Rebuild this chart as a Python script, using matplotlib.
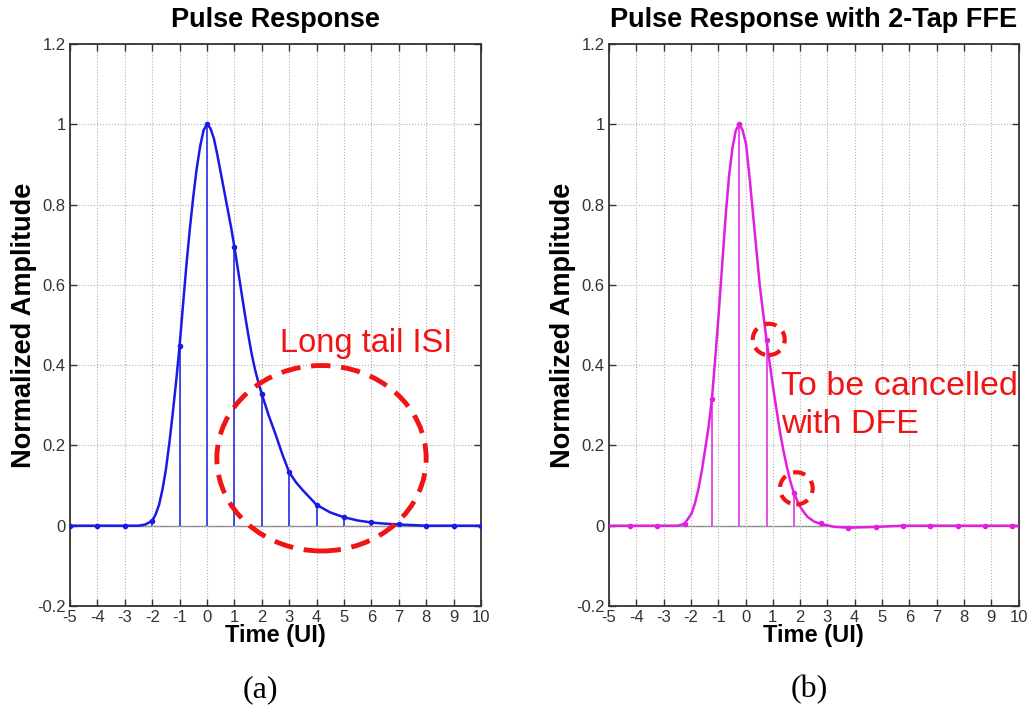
import matplotlib
matplotlib.use("Agg")
import matplotlib.pyplot as plt
from matplotlib.patches import Ellipse

plt.rcParams['font.family'] = ['Liberation Sans', 'DejaVu Sans']

# (a) pulse response, dense trace
t_a = [-5, -3, -2.5, -2.25, -2.0, -1.875, -1.75, -1.625, -1.5, -1.375, -1.25, -1.125,
       -1.0, -0.875, -0.75, -0.625, -0.5, -0.375, -0.25, -0.125, 0.0,
       0.125, 0.25, 0.375, 0.5, 0.625, 0.75, 0.875, 1.0, 1.125, 1.25, 1.375, 1.5,
       1.625, 1.75, 1.875, 2.0, 2.25, 2.5, 2.75, 3.0, 3.25, 3.5, 4.0, 4.5, 5.0,
       5.5, 6.0, 6.5, 7.0, 8.0, 10]
y_a = [0, 0, 0.0, 0.003, 0.012, 0.028, 0.052, 0.09, 0.14, 0.205, 0.28, 0.36,
       0.448, 0.55, 0.65, 0.74, 0.82, 0.89, 0.945, 0.985, 1.0,
       0.99, 0.965, 0.925, 0.88, 0.835, 0.79, 0.745, 0.695, 0.64, 0.585, 0.53, 0.478,
       0.43, 0.39, 0.357, 0.328, 0.275, 0.228, 0.178, 0.133, 0.108, 0.088, 0.052, 0.033, 0.021,
       0.013, 0.008, 0.005, 0.003, 0.0, 0.0]
# (a) samples at integer UI
ts_a = [-5, -4, -3, -2, -1, 0, 1, 2, 3, 4, 5, 6, 7, 8, 9, 10]
ys_a = [0, 0, 0, 0.011, 0.448, 1.0, 0.695, 0.328, 0.133, 0.052, 0.021, 0.008, 0.003, 0, 0, 0]

# (b) pulse response with 2-tap FFE (sampling phase about -0.23 UI)
t_b = [-5, -3.5, -2.48, -2.23, -1.98, -1.855, -1.73, -1.605, -1.48, -1.355, -1.23, -1.105,
       -0.98, -0.855, -0.73, -0.605, -0.48, -0.355, -0.23,
       -0.105, 0.02, 0.145, 0.27, 0.395, 0.52, 0.645, 0.77, 0.895, 1.02, 1.145, 1.27,
       1.395, 1.52, 1.645, 1.77, 1.895, 2.02, 2.145, 2.27, 2.52, 2.77, 3.27, 3.77,
       4.77, 5.77, 10]
y_b = [0, 0, 0.0, 0.005, 0.03, 0.055, 0.09, 0.135, 0.19, 0.245, 0.316, 0.42,
       0.53, 0.65, 0.77, 0.87, 0.94, 0.985, 1.0,
       0.985, 0.95, 0.87, 0.78, 0.69, 0.60, 0.53, 0.462, 0.40, 0.34, 0.285, 0.23,
       0.185, 0.145, 0.11, 0.082, 0.062, 0.045, 0.033, 0.022, 0.01, 0.004, -0.003, -0.005,
       -0.003, 0.0, 0.0]
ts_b = [-4.23, -3.23, -2.23, -1.23, -0.23, 0.77, 1.77, 2.77, 3.77, 4.77, 5.77, 6.77, 7.77, 8.77, 9.77]
ys_b = [0, 0, 0.005, 0.316, 1.0, 0.462, 0.082, 0.006, -0.005, -0.004, 0, 0, 0, 0, 0]

xticks = list(range(-5, 11))
yticks = [-0.2, 0, 0.2, 0.4, 0.6, 0.8, 1, 1.2]
ytick_labels = ['-0.2', '0', '0.2', '0.4', '0.6', '0.8', '1', '1.2']

blue = '#1a1ae6'
magenta = '#e11ee1'
red = '#f01414'

fig = plt.figure(figsize=(10.31, 7.09), dpi=100)
ax1 = fig.add_axes([0.0679, 0.1453, 0.3986, 0.7927])
ax2 = fig.add_axes([0.5907, 0.1453, 0.3972, 0.7927])


def style_axes(ax, title):
    ax.set_xlim(-5, 10)
    ax.set_ylim(-0.2, 1.2)
    ax.set_xticks(xticks)
    ax.set_xticklabels([str(v) for v in xticks])
    ax.set_yticks(yticks)
    ax.set_yticklabels(ytick_labels)
    ax.grid(True, linestyle=':', color='#b0b0b0', linewidth=0.8)
    ax.tick_params(direction='in', top=True, right=True, labelsize=12, colors='#333333',
                   length=5, width=1, pad=3)
    for s in ax.spines.values():
        s.set_color('#333333')
        s.set_linewidth(1.3)
    ax.set_title(title, fontsize=19.5, fontweight='bold', pad=12)
    ax.set_xlabel('Time (UI)', fontsize=17, fontweight='bold', labelpad=-1)
    ax.set_ylabel('Normalized Amplitude', fontsize=19.5, fontweight='bold', labelpad=0)
    ax.axhline(0, color='#808080', linewidth=1, zorder=1)


def draw_pulse(ax, t, y, ts, ys, color):
    ax.vlines(ts, 0, ys, color=color, linewidth=1.1, zorder=2)
    ax.plot(t, y, color=color, linewidth=1.8, zorder=3, solid_joinstyle='round')
    ax.plot(ts, ys, linestyle='none', marker='.', markersize=6, color=color, zorder=4)


style_axes(ax1, 'Pulse Response')
draw_pulse(ax1, t_a, y_a, ts_a, ys_a, blue)
ax1.add_patch(Ellipse((4.18, 0.168), 7.64, 0.462, fill=False, edgecolor=red,
                      linewidth=3.5, linestyle=(0, (4, 2.2)), zorder=5))
ax1.text(5.8, 0.455, 'Long tail ISI', color=red, fontsize=23.5, ha='center', va='center')

style_axes(ax2, 'Pulse Response with 2-Tap FFE')
draw_pulse(ax2, t_b, y_b, ts_b, ys_b, magenta)
ax2.add_patch(Ellipse((0.85, 0.464), 1.17, 0.078, fill=False, edgecolor=red,
                      linewidth=3, linestyle=(0, (3, 2)), zorder=5))
ax2.add_patch(Ellipse((1.86, 0.093), 1.2, 0.08, fill=False, edgecolor=red,
                      linewidth=3, linestyle=(0, (3, 2)), zorder=5))
ax2.text(1.3, 0.30, 'To be cancelled\nwith DFE', color=red, fontsize=24.5, ha='left',
         va='center', linespacing=1.3)

fig.text(0.2522, 0.027, '(a)', fontsize=23, family='Liberation Serif', ha='center', va='center')
fig.text(0.7847, 0.027, '(b)', fontsize=23, family='Liberation Serif', ha='center', va='center')

fig.savefig('out.png', dpi=100)
